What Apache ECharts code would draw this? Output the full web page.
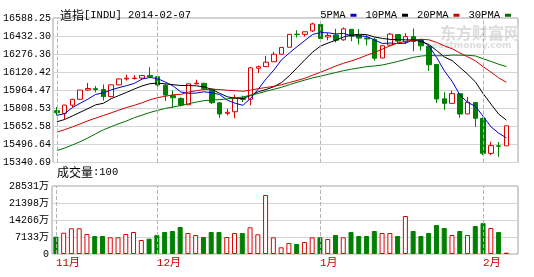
<!DOCTYPE html>
<html><head><meta charset="utf-8">
<script src="https://cdn.jsdelivr.net/npm/echarts/dist/echarts.min.js"></script>
<style>html,body{margin:0;padding:0;background:#fff}#c{width:534px;height:277px}</style>
</head><body><div id="c"></div>
<script>
const DATES = ['11-12','11-13','11-14','11-15','11-18','11-19','11-20','11-21','11-22','11-25','11-26','11-27','11-29',
'12-02','12-03','12-04','12-05','12-06','12-09','12-10','12-11','12-12','12-13','12-16','12-17','12-18','12-19','12-20','12-23','12-24','12-26','12-27','12-30','12-31',
'01-02','01-03','01-06','01-07','01-08','01-09','01-10','01-13','01-14','01-15','01-16','01-17','01-21','01-22','01-23','01-24','01-27','01-28','01-29','01-30','01-31',
'02-03','02-04','02-05','02-06','02-07'];
const MONTH_LABELS = {'11-12':'11月','12-02':'12月','01-02':'1月','02-03':'2月'};
const OPEN  = [15770,15745,15821,15876,15962,15975,15967,15901,16010,16065,16070,16073,16098,16086,16006,15910,15883,15825,16020,16024,15970,15843,15745,15760,15885,15876,16165,16180,16225,16295,16360,16482,16480,16512,16572,16456,16474,16429,16527,16470,16446,16434,16260,16380,16478,16410,16459,16430,16370,16200,15880,15838,15928,15740,15846,15697,15373,15443,15443];
const CLOSE = [15751,15822,15876,15962,15976,15967,15901,16010,16065,16073,16073,16097,16086,16009,15915,15890,15822,16020,16026,15973,15844,15739,15755,15885,15875,16168,16179,16221,16295,16358,16480,16478,16504,16577,16441,16470,16425,16531,16463,16445,16437,16258,16374,16482,16417,16459,16414,16373,16197,15879,15838,15929,15739,15849,15699,15373,15445,15440,15629];
const LOW   = [15726,15690,15800,15870,15953,15940,15865,15895,16005,16050,16060,16065,16080,15990,15860,15794,15810,15822,16015,15965,15833,15703,15726,15700,15850,15820,16120,16175,16225,16290,16360,16450,16460,16502,16425,16425,16405,16420,16416,16386,16377,16235,16258,16376,16400,16390,16322,16330,16140,15841,15777,15835,15704,15738,15620,15356,15357,15340.69,15443];
const HIGH  = [15804,15823,15880,15963,16027,16000,16014,16012,16070,16104,16100,16100,16174,16100,16020,15958,15895,16021,16058,16030,15980,15850,15788,15920,15910,16176,16190,16280,16318,16360,16483,16518,16505,16588.25,16573,16492,16532,16544,16528,16528,16470,16450,16380,16492,16480,16490,16534,16439,16375,16202,15942,15958,15930,15898,15848,15708,15480,15478,15631];
const VOLUME = [7260,8940,10780,10780,8390,7550,7550,7000,7000,8390,9230,5870,6430,7970,9230,9650,11330,8810,7970,7130,9230,9230,7130,8810,8810,11190,8250,24760,7000,2800,4620,4200,5040,7000,7000,6290,7970,7000,9230,7550,7550,9650,8810,8810,7550,15940,9650,7550,8810,12170,10910,7970,9650,7970,11750,13010,10910,9230,550];
const MA5  = [15727,15742,15799,15839,15877,15921,15936,15963,15984,16003,16024,16064,16079,16068,16036,15999,15944,15931,15934,15946,15937,15920,15867,15839,15820,15885,15972,16066,16148,16244,16307,16366,16423,16479,16496,16494,16484,16489,16466,16467,16460,16427,16395,16399,16394,16398,16429,16429,16372,16265,16140,16043,15916,15847,15811,15718,15621,15561,15517];
const MA10 = [15667,15688,15721,15755,15789,15824,15839,15881,15911,15940,15972,16000,16021,16026,16020,16012,16004,16005,16001,15991,15968,15932,15899,15887,15883,15911,15946,15967,15993,16032,16096,16169,16244,16314,16370,16400,16425,16456,16473,16481,16477,16455,16442,16433,16430,16429,16428,16412,16386,16329,16269,16236,16173,16109,16038,15929,15832,15739,15682];
const MA20 = [15571,15593,15619,15647,15676,15701,15725,15750,15775,15800,15820,15844,15871,15891,15904,15918,15922,15943,15956,15966,15970,15966,15960,15956,15951,15961,15975,15986,15997,16011,16032,16051,16072,16100,16127,16156,16186,16211,16233,16257,16286,16312,16343,16373,16400,16415,16426,16434,16429,16405,16373,16346,16307,16271,16234,16179,16130,16076,16034];
const MA30 = [15399,15422,15451,15481,15516,15555,15592,15621,15649,15675,15705,15729,15753,15773,15791,15805,15818,15835,15850,15864,15869,15873,15880,15889,15897,15915,15930,15951,15969,15988,16012,16034,16055,16075,16091,16108,16125,16142,16156,16168,16180,16186,16195,16211,16228,16247,16266,16278,16284,16281,16281,16287,16286,16285,16279,16253,16228,16202,16180];
const PRICE_TICKS = ['15340.69','15496.64','15652.58','15808.53','15964.47','16120.42','16276.36','16432.30','16588.25'];
const VOL_TICKS = ['0','7133万','14266万','21398万','28531万'];

const MONO = "'Liberation Mono','Noto Sans CJK SC',monospace";
const CJK = "'Noto Sans CJK SC',sans-serif";
const UP = '#dd0000', DOWN = '#008000';
const P_MIN = 15288, P_MAX = 16632, P_INT = 168;
const V_MAX = 28532, V_INT = 7133;

const candleData = OPEN.map((o, i) => [o, CLOSE[i], LOW[i], HIGH[i]]);
const volData = VOLUME.map((v, i) => ({
  value: v,
  itemStyle: CLOSE[i] >= OPEN[i]
    ? {color: '#fff', borderColor: UP, borderWidth: 1}
    : {color: DOWN, borderColor: DOWN, borderWidth: 1}
}));
const monthLines = Object.keys(MONTH_LABELS).map(d => ({xAxis: d}));
const markLine = {
  symbol: ['none', 'none'], silent: true, label: {show: false},
  lineStyle: {color: '#b4b4b4', type: 'dashed', width: 1}, data: monthLines
};
function ma(name, data, color) {
  return {name, type: 'line', xAxisIndex: 0, yAxisIndex: 0, data, symbol: 'none', showSymbol: false,
    lineStyle: {width: 1, color}, itemStyle: {color}, z: 3};
}

const chart = echarts.init(document.getElementById('c'));
chart.setOption({
  animation: false,
  backgroundColor: '#fff',
  title: {
    text: '{a|道指}{b|[INDU] 2014-02-07}', left: 55, top: 4,
    textStyle: {fontWeight: 'normal', rich: {
      a: {fontFamily: CJK, fontSize: 12, fontWeight: 'normal', color: '#000'},
      b: {fontFamily: MONO, fontSize: 10.5, fontWeight: 'normal', color: '#000'}}}
  },
  legend: {
    right: 18, top: 5, align: 'right', icon: 'rect', itemWidth: 6, itemHeight: 3, itemGap: 9,
    selectedMode: false, textStyle: {fontFamily: MONO, fontSize: 10.5, color: '#000'},
    data: ['5PMA', '10PMA', '20PMA', '30PMA']
  },
  graphic: [
    {type: 'text', left: 57, top: 166, style: {text: '{a|成交量}{b|:100}',
      rich: {a: {fontFamily: CJK, fontSize: 12, fill: '#000'}, b: {fontFamily: MONO, fontSize: 10.5, fill: '#000'}}}},
    {type: 'text', left: 440, top: 25, z: 0, style: {text: '东方财富网', font: 'bold 16px ' + CJK, fill: '#dcdcdc'}},
    {type: 'text', left: 432, top: 41, z: 0, style: {text: 'eastmoney.com', font: 'bold 9px ' + "'DejaVu Sans'", fill: '#dcdcdc'}}
  ],
  grid: [
    {left: 52, right: 16, top: 18, height: 144.5, show: true, borderColor: '#a0a0a0', borderWidth: 1, backgroundColor: 'transparent'},
    {left: 52, right: 16, top: 186, height: 68, show: true, borderColor: '#a0a0a0', borderWidth: 1, backgroundColor: 'transparent'}
  ],
  xAxis: [
    {type: 'category', gridIndex: 0, data: DATES, boundaryGap: true,
      axisLine: {show: false}, axisTick: {show: false}, axisLabel: {show: false}, splitLine: {show: false}},
    {type: 'category', gridIndex: 1, data: DATES, boundaryGap: true,
      axisLine: {show: false}, axisTick: {show: false}, splitLine: {show: false},
      axisLabel: {interval: (i, v) => !!MONTH_LABELS[v], formatter: v => MONTH_LABELS[v] || '',
        color: '#cc0000', fontFamily: MONO, fontSize: 11, margin: 4, align: 'left'}}
  ],
  yAxis: [
    {type: 'value', gridIndex: 0, min: P_MIN, max: P_MAX, interval: P_INT,
      axisLine: {show: false}, axisTick: {show: false},
      splitLine: {lineStyle: {color: '#d4d4d4', width: 1}},
      axisLabel: {formatter: v => PRICE_TICKS[Math.round((v - P_MIN) / P_INT)] || '', color: '#000',
        fontFamily: MONO, fontSize: 10, margin: 2}},
    {type: 'value', gridIndex: 1, min: 0, max: V_MAX, interval: V_INT,
      axisLine: {show: false}, axisTick: {show: false},
      splitLine: {lineStyle: {color: '#d4d4d4', width: 1}},
      axisLabel: {formatter: v => VOL_TICKS[Math.round(v / V_INT)] || '', color: '#000',
        fontFamily: MONO, fontSize: 10, margin: 3}}
  ],
  series: [
    {type: 'candlestick', xAxisIndex: 0, yAxisIndex: 0, data: candleData, barWidth: 5,
      itemStyle: {color: '#fff', color0: DOWN, borderColor: UP, borderColor0: DOWN, borderWidth: 1},
      markLine, z: 2},
    ma('5PMA', MA5, '#0000cc'),
    ma('10PMA', MA10, '#000000'),
    ma('20PMA', MA20, '#d00000'),
    ma('30PMA', MA30, '#006e00'),
    {type: 'bar', xAxisIndex: 1, yAxisIndex: 1, data: volData, barWidth: 5, markLine}
  ]
});
</script></body></html>
